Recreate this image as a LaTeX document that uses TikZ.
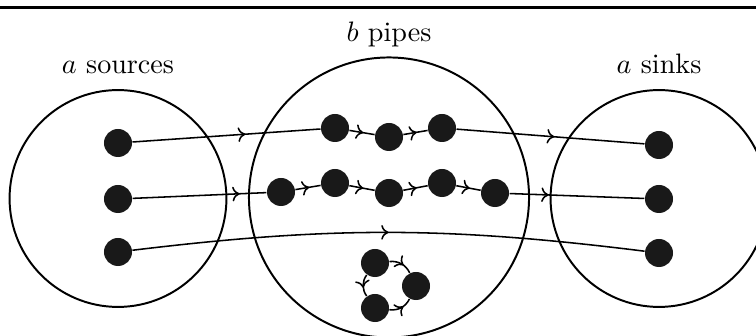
\documentclass[tikz,border=0pt]{standalone}
\usetikzlibrary{decorations.markings,arrows.meta}
\begin{document}
\begin{tikzpicture}[x=.0125cm,y=-.0125cm,
  dot/.style={circle,fill=black!90,minimum size=.35cm,inner sep=0pt},
  ring/.style={draw,circle,line width=.7pt,inner sep=0pt},
  flow/.style={line width=.55pt,postaction={decorate},
    decoration={markings,mark=at position #1 with {\arrow{To[length=2.6pt,width=5.2pt]}}}},
  flow/.default=.55]
\useasboundingbox (0,0) rectangle (756,336);
\clip (0,0) rectangle (756,336);
\draw[line width=1pt] (0,7.5)--(756,7.5);
% the three groups
\node[ring,minimum size=2.71cm] (srcs) at (118,198.5) {};
\node[ring,minimum size=3.5cm] (pipes) at (389,197.5) {};
\node[ring,minimum size=2.71cm] (snks) at (659,198.5) {};
\node[anchor=base] (srclabel) at ([yshift=.19cm]srcs.north) {$a$ sources};
\node[anchor=base] (pipelabel) at ([yshift=.19cm]pipes.north) {$b$ pipes};
\node[anchor=base] (snklabel) at ([yshift=.19cm]snks.north) {$a$ sinks};
% vertices
\foreach \n/\x/\y in {src1/118/143,src2/118/199,src3/118/252,
  snk1/659/145,snk2/659/199,snk3/659/253,
  p1/335/128,p2/389/137,p3/442/128,
  q1/281/192,q2/335/183,q3/389/193,q4/442/183,q5/495/193,
  c1/375/263,c2/416/286,c3/375/308}
  {\node[dot] (\n) at (\x,\y) {};}
% edges
\foreach \a/\b/\p in {src1/p1/.6,p1/p2/.55,p2/p3/.55,p3/snk1/.52,
  src2/q1/.8,q1/q2/.55,q2/q3/.55,q3/q4/.55,q4/q5/.55,q5/snk2/.29}
  {\draw[flow=\p] (\a)--(\b);}
\draw[flow=.5] (src3) to[bend left=7] (snk3);
\draw[flow=.6] (c1) to[bend left=35] (c2);
\draw[flow=.6] (c1) to[bend right=35] (c3);
\draw[flow=.6] (c3) to[bend right=35] (c2);
\end{tikzpicture}
\end{document}
